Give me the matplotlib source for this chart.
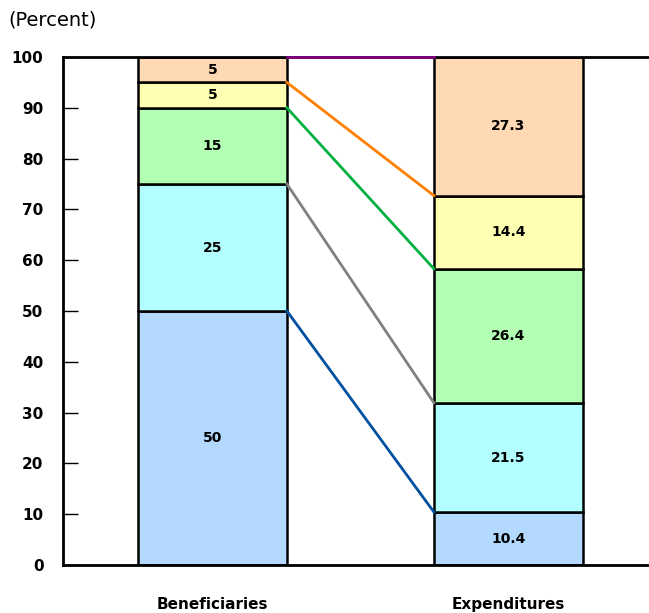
import matplotlib
matplotlib.use("Agg")
import matplotlib.pyplot as plt
import numpy as np

categories = ["Beneficiaries", "Expenditures"]
beneficiaries = [50, 25, 15, 5, 5]
expenditures = [10.4, 21.5, 26.4, 14.4, 27.3]
ben_labels = ["50", "25", "15", "5", "5"]
exp_labels = ["10.4", "21.5", "26.4", "14.4", "27.3"]
yticks = [0, 10, 20, 30, 40, 50, 60, 70, 80, 90, 100]

fills = ["#b3d9ff", "#b3ffff", "#b3ffb3", "#ffffb3", "#ffd9b3"]
line_colors = ["#0050a0", "#808080", "#00b040", "#ff8000", "#800080"]

plt.rcParams['font.family'] = ['DejaVu Sans']

fig = plt.figure(figsize=(6.49, 6.13), dpi=100)
ax = fig.add_axes([63/649, 1-565/613, 1-63/649, (565-57)/613])

x = np.array([0, 1])
width = 0.503
series = [beneficiaries, expenditures]
labels = [ben_labels, exp_labels]
for i in range(2):
    bottom = 0
    for j, v in enumerate(series[i]):
        ax.bar(x[i], v, width, bottom=bottom, color=fills[j], edgecolor="black",
               linewidth=1.8, zorder=2)
        ax.text(x[i], bottom + v/2, labels[i][j], ha="center", va="center",
                fontsize=10, fontweight="bold", zorder=3)
        bottom += v

cb = np.cumsum(beneficiaries)
ce = np.cumsum(expenditures)
for j in range(5):
    ax.plot([x[0] + width/2, x[1] - width/2], [cb[j], ce[j]],
            color=line_colors[j], linewidth=2, zorder=4, clip_on=False)

ax.set_xlim(-0.505, 1.475)
ax.set_ylim(0, 100)
ax.set_yticks(yticks)
ax.set_yticklabels([str(t) for t in yticks], fontsize=11, fontweight="bold")
ax.tick_params(axis="y", direction="in", length=11, width=1, pad=14)
ax.set_xticks(x)
ax.set_xticklabels(categories, fontsize=11, fontweight="bold")
ax.tick_params(axis="x", length=0, pad=23)
for s in ["left", "bottom", "top"]:
    ax.spines[s].set_linewidth(2)
ax.spines["right"].set_visible(False)

fig.text(8/649, 1-20/613, "(Percent)", fontsize=14, ha="left", va="center")

fig.savefig("out.png", dpi=100)
